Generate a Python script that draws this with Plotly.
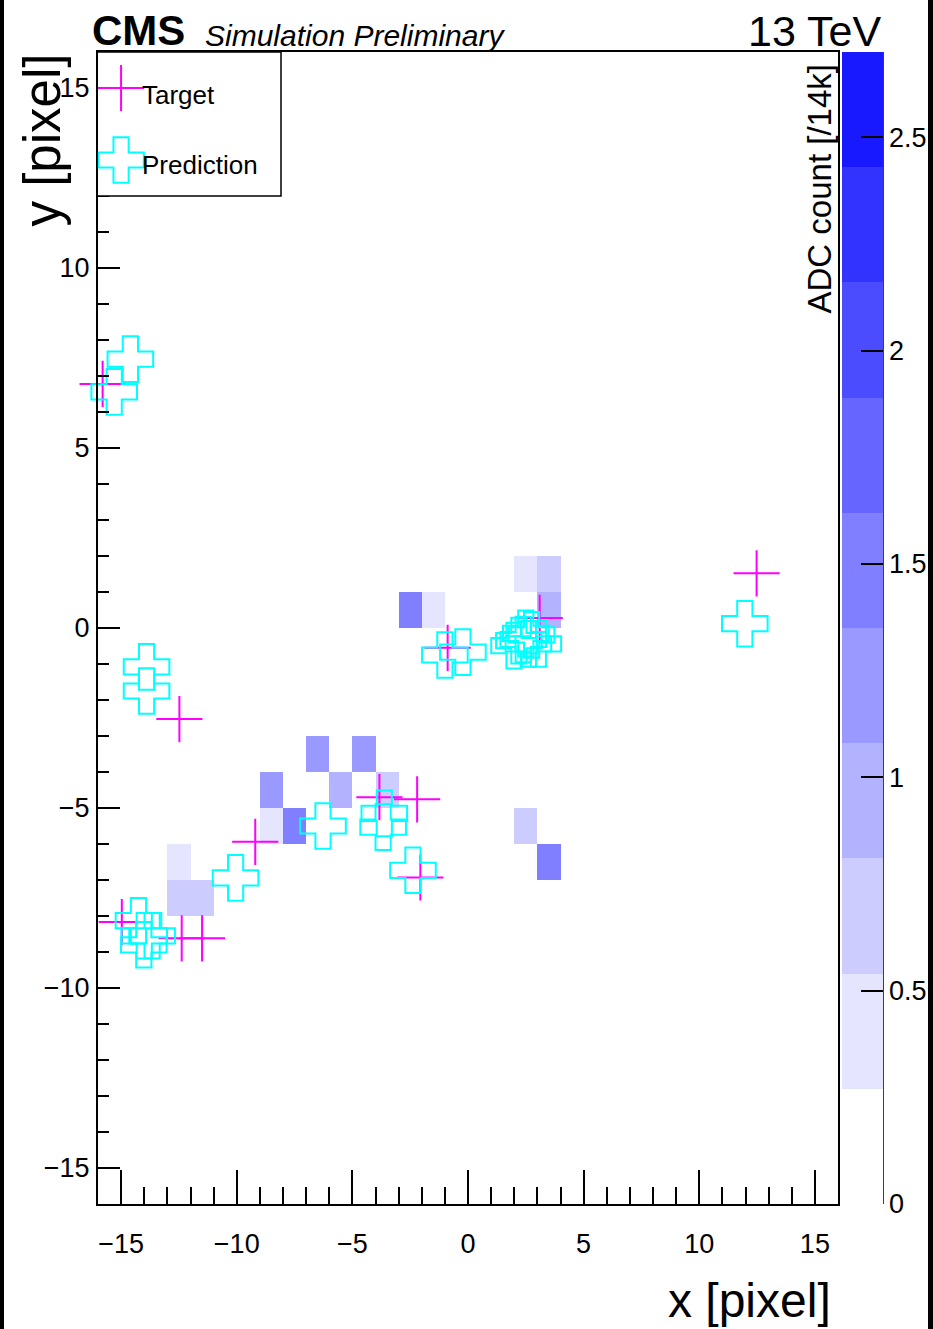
import plotly.graph_objects as go

# ---- lit pixels: lower-left corner (x, y) and ADC count [/14k] ----
cell_x = [-3, -2, 2, 3, 3, -9, -9, -8, -7, -6, -5, -4, -13, -13, -12, 2, 3]
cell_y = [0, 0, 1, 1, 0, -5, -6, -6, -4, -5, -4, -5, -7, -8, -8, -6, -7]
cell_adc = [1.5, 0.4, 0.4, 0.7, 0.95, 1.2, 0.4, 1.5, 1.2, 0.95, 1.2, 0.7,
            0.4, 0.7, 0.7, 0.7, 1.5]

# ---- target hit positions ----
target_x = [12.48, -15.8, -12.48, -14.97, -12.38, -11.5, -9.2, -3.83, -2.2,
            -2.06, -0.88, 3.1]
target_y = [1.52, 6.78, -2.53, -8.17, -8.62, -8.62, -5.94, -4.7, -4.76,
            -6.93, -0.55, 0.28]

# ---- predicted hit positions ----
pred_x = [-14.6, -15.3, -13.9, -13.9, -14.25, -13.66, -14.02, -14.0, -10.05,
          -6.27, -3.62, -3.67, -2.38, -1.0, -0.22, 1.99, 2.75, 3.04, 2.39,
          2.61, 2.5, 2.2, 11.97]
pred_y = [7.47, 6.56, -1.08, -1.75, -8.13, -8.55, -8.8, -8.55, -6.94,
          -5.5, -5.15, -5.53, -6.73, -0.75, -0.67, -0.49, -0.19, -0.44, -0.32,
          -0.44, -0.15, -0.35, 0.12]

# colour steps of the ADC palette (10 equal bands from 0 to z_max)
band_colors = ["#ffffff", "#e5e5ff", "#ccccff", "#b2b2ff", "#9999ff",
               "#7f7fff", "#6666ff", "#4c4cff", "#3333ff", "#1919ff"]
z_max = 2.7
cbar_ticks = [0, 0.5, 1, 1.5, 2, 2.5]

# ---- figure geometry (pixels) ----
W, H = 933, 1329
L, R, T, B = 98, 838, 52, 1204          # plot frame
PW, PH = R - L, B - T
FONT = "Liberation Sans"


def px_x(p):
    return (p - L) / PW


def px_y(p):
    return (B - p) / PH


# binned map over the 32 x 32 pixel grid
edges = list(range(-16, 17))
centers = [e + 0.5 for e in edges[:-1]]
z = [[None] * len(centers) for _ in centers]
for cx, cy, v in zip(cell_x, cell_y, cell_adc):
    z[cy + 16][cx + 16] = v

n = len(band_colors)
colorscale = []
for k, c in enumerate(band_colors):
    colorscale.append([k / n, c])
    colorscale.append([(k + 1) / n, c])

fig = go.Figure()

fig.add_trace(go.Heatmap(
    x=centers, y=centers, z=z, zmin=0, zmax=z_max,
    colorscale=colorscale, hoverongaps=False, showscale=True,
    colorbar=dict(
        x=px_x(842), xanchor="left", y=0.5, yanchor="middle",
        len=1, lenmode="fraction", thickness=41, thicknessmode="pixels",
        xpad=0, ypad=0, outlinewidth=0,
        tickvals=cbar_ticks, ticktext=[f"{t:g}" for t in cbar_ticks],
        ticks="inside", ticklen=22, tickwidth=1.5, tickcolor="black",
        tickfont=dict(family=FONT, size=27, color="black"),
    ),
))

fig.add_trace(go.Scatter(
    x=target_x, y=target_y, mode="markers", name="Target",
    marker=dict(symbol="cross-thin-open", size=33, color="#ff00ff",
                line=dict(color="#ff00ff", width=2)),
    cliponaxis=False, showlegend=False,
))

fig.add_trace(go.Scatter(
    x=pred_x, y=pred_y, mode="markers", name="Prediction",
    marker=dict(symbol="cross-open", size=38, color="#00ffff",
                line=dict(color="#00ffff", width=2)),
    cliponaxis=False, showlegend=False,
))

# legend keys drawn on a small overlay frame in the upper-left corner
leg_x0, leg_x1, leg_y0, leg_y1 = 97, 281, 52, 196
fig.add_trace(go.Scatter(
    x=[0.126], y=[0.75], mode="markers", xaxis="x2", yaxis="y2",
    marker=dict(symbol="cross-thin-open", size=33, color="#ff00ff",
                line=dict(color="#ff00ff", width=2)),
    showlegend=False, hoverinfo="skip", cliponaxis=False,
))
fig.add_trace(go.Scatter(
    x=[0.126], y=[0.25], mode="markers", xaxis="x2", yaxis="y2",
    marker=dict(symbol="cross-open", size=38, color="#00ffff",
                line=dict(color="#00ffff", width=2)),
    showlegend=False, hoverinfo="skip", cliponaxis=False,
))

axis_common = dict(
    range=[-16, 16], dtick=5, tick0=0, ticks="inside", tickwidth=1.5,
    tickcolor="black", showline=True, linecolor="black", linewidth=2,
    mirror=True, showgrid=False, zeroline=False,
    tickfont=dict(family=FONT, size=27, color="black"),
)

fig.update_layout(
    width=W, height=H, autosize=False,
    margin=dict(l=L, r=W - R, t=T, b=H - B, autoexpand=False),
    paper_bgcolor="white", plot_bgcolor="white",
    showlegend=False,
    xaxis=dict(**axis_common, ticklen=34, ticklabelstandoff=15,
               minor=dict(dtick=1, tick0=0, ticks="inside", ticklen=17,
                          tickwidth=1.5, tickcolor="black")),
    yaxis=dict(**axis_common, ticklen=22, ticklabelstandoff=1,
               minor=dict(dtick=1, tick0=0, ticks="inside", ticklen=11,
                          tickwidth=1.5, tickcolor="black")),
    xaxis2=dict(domain=[max(0.0, px_x(leg_x0)), px_x(leg_x1)], range=[0, 1],
                visible=False, anchor="y2"),
    yaxis2=dict(domain=[px_y(leg_y1), min(1.0, px_y(leg_y0))], range=[0, 1],
                visible=False, anchor="x2"),
)

shapes = [
    # legend frame
    dict(type="rect", xref="paper", yref="paper",
         x0=px_x(leg_x0), x1=px_x(leg_x1), y0=px_y(leg_y1), y1=px_y(leg_y0),
         line=dict(color="black", width=1.5), fillcolor="rgba(0,0,0,0)"),
    # colour-axis spine
    dict(type="line", xref="paper", yref="paper",
         x0=px_x(883), x1=px_x(883), y0=0, y1=1,
         line=dict(color="black", width=1.5)),
    # dark page borders on the left and right edges
    dict(type="rect", xref="paper", yref="paper",
         x0=px_x(0), x1=px_x(4), y0=px_y(H), y1=px_y(0),
         line=dict(width=0), fillcolor="black"),
    dict(type="rect", xref="paper", yref="paper",
         x0=px_x(928), x1=px_x(W), y0=px_y(H), y1=px_y(0),
         line=dict(width=0), fillcolor="black"),
]
fig.update_layout(shapes=shapes)

annotations = [
    dict(text="<b>CMS</b>", x=px_x(90), y=px_y(31), xanchor="left",
         yanchor="middle", font=dict(family=FONT, size=42, color="black")),
    dict(text="<i>Simulation Preliminary</i>", x=px_x(203), y=px_y(35),
         xanchor="left", yanchor="middle",
         font=dict(family=FONT, size=30, color="black")),
    dict(text="13 TeV", x=px_x(883), y=px_y(31), xanchor="right",
         yanchor="middle", font=dict(family=FONT, size=43, color="black")),
    dict(text="x [pixel]", x=px_x(833), y=px_y(1300), xanchor="right",
         yanchor="middle", font=dict(family=FONT, size=48, color="black")),
    dict(text="y [pixel]", x=px_x(42), y=px_y(52), xanchor="center",
         yanchor="top", textangle=-90,
         font=dict(family=FONT, size=51, color="black")),
    dict(text="ADC count [/14k]", x=px_x(819), y=px_y(63), xanchor="center",
         yanchor="top", textangle=-90,
         font=dict(family=FONT, size=33, color="black")),
    dict(text="Target", x=px_x(140), y=px_y(95), xanchor="left",
         yanchor="middle", font=dict(family=FONT, size=26, color="black")),
    dict(text="Prediction", x=px_x(140), y=px_y(165), xanchor="left",
         yanchor="middle", font=dict(family=FONT, size=26, color="black")),
]
for a in annotations:
    a.update(xref="paper", yref="paper", showarrow=False)
fig.update_layout(annotations=annotations)

fig.write_html("out.html")
